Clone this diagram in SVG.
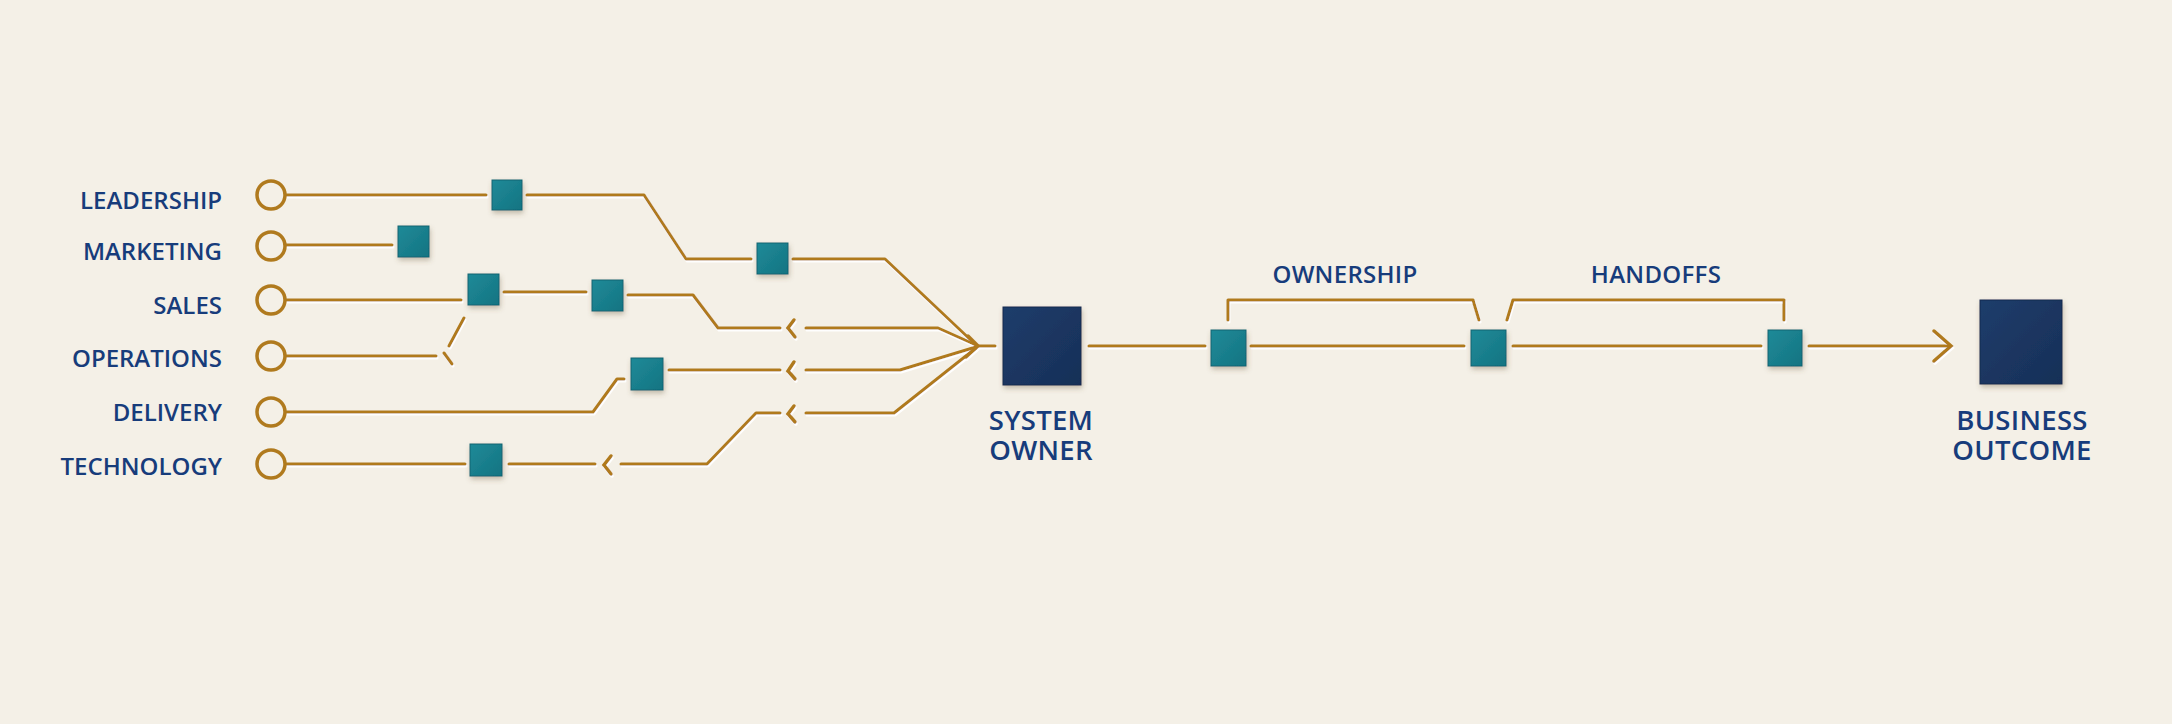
<svg xmlns="http://www.w3.org/2000/svg" width="2172" height="724" viewBox="0 0 2172 724">
  <defs>
    <style>
      .lbl { font-family: "Open Sans", "Noto Sans", "Liberation Sans", sans-serif; font-weight: 600; font-size: 24px; fill: #173C7B; }
      .big { font-size: 27.5px; letter-spacing: 0.3px; }
      .lbl-end { text-anchor: end; }
      .lbl-mid { text-anchor: middle; }
      .wire { fill: none; stroke: #B07A1E; stroke-width: 3; stroke-linecap: round; stroke-linejoin: round; }
      .chev { fill: none; stroke: #B07A1E; stroke-width: 3.5; stroke-linecap: round; stroke-linejoin: miter; }
      .port { fill: none; stroke: #B07A1E; stroke-width: 3.5; }
      .tile { fill: url(#teal); stroke: #0F6472; stroke-width: 1; }
      .hub { fill: url(#navy); stroke: #132A4E; stroke-width: 1; }
    </style>
    <linearGradient id="teal" x1="0" y1="0" x2="1" y2="1">
      <stop offset="0" stop-color="#1F8A98"/>
      <stop offset="1" stop-color="#147482"/>
    </linearGradient>
    <linearGradient id="navy" x1="0" y1="0" x2="1" y2="1">
      <stop offset="0" stop-color="#1E3D6B"/>
      <stop offset="1" stop-color="#172F57"/>
    </linearGradient>
    <filter id="emboss" x="-5%" y="-20%" width="110%" height="140%">
      <feOffset in="SourceAlpha" dx="0.8" dy="1.6" result="off"/>
      <feFlood flood-color="#FFFFFF" flood-opacity="0.95"/>
      <feComposite in2="off" operator="in" result="hi"/>
      <feMerge><feMergeNode in="hi"/><feMergeNode in="SourceGraphic"/></feMerge>
    </filter>
    <filter id="shadow" x="-30%" y="-30%" width="160%" height="170%">
      <feDropShadow dx="1" dy="3" stdDeviation="2.5" flood-color="#6B5A3A" flood-opacity="0.35"/>
    </filter>
  </defs>

  <rect x="0" y="0" width="2172" height="724" fill="#F4F0E7"/>

  <g id="connectors" filter="url(#emboss)">
    <!-- Leadership -->
    <path class="wire" d="M286,195 H486"/>
    <path class="wire" d="M527,195 H644 L686,259 H751"/>
    <path class="wire" d="M793,259 H885 L976,345"/>
    <!-- Marketing -->
    <path class="wire" d="M286,245 H392"/>
    <!-- Sales -->
    <path class="wire" d="M286,300 H461"/>
    <path class="wire" d="M504,292 H586"/>
    <path class="wire" d="M628,295 H693 L718,328 H780"/>
    <path class="chev" d="M794,320 L788,328 L795,337"/>
    <path class="wire" d="M806,328 H938 L976,345"/>
    <!-- Operations (broken) -->
    <path class="wire" d="M286,356 H436"/>
    <path class="wire" d="M464,318 L449,346"/>
    <path class="wire" d="M444,353 L452,364"/>
    <!-- Delivery -->
    <path class="wire" d="M286,412 H593 L617,379 H624"/>
    <path class="wire" d="M669,370 H780"/>
    <path class="chev" d="M794,362 L788,371 L795,379"/>
    <path class="wire" d="M806,370 H900 L976,347"/>
    <!-- Technology -->
    <path class="wire" d="M286,464 H465"/>
    <path class="wire" d="M509,464 H595"/>
    <path class="chev" d="M611,456 L604,465 L611,474"/>
    <path class="wire" d="M621,464 H707 L756,413 H780"/>
    <path class="chev" d="M794,406 L788,414 L795,422"/>
    <path class="wire" d="M806,413 H894 L976,348"/>
    <!-- Arrow into System Owner -->
    <path class="chev" d="M968,336 L978,346 L966,357"/>
    <path class="wire" d="M978,346 H995"/>
    <!-- Main line -->
    <path class="wire" d="M1089,346 H1205"/>
    <path class="wire" d="M1251,346 H1464"/>
    <path class="wire" d="M1513,346 H1761"/>
    <path class="wire" d="M1809,346 H1950"/>
    <path class="chev" d="M1934,331 L1951,346 L1934,361"/>
    <!-- Brackets -->
    <path class="wire" d="M1228,320 V300 H1473 L1479,320"/>
    <path class="wire" d="M1507,320 L1513,300 H1784 V320"/>
  </g>

  <g id="leadership">
    <text class="lbl lbl-end" x="222" y="209">LEADERSHIP</text>
    <circle class="port" cx="271" cy="195" r="14"/>
  </g>
  <g id="marketing">
    <text class="lbl lbl-end" x="222" y="260">MARKETING</text>
    <circle class="port" cx="271" cy="246" r="14"/>
  </g>
  <g id="sales">
    <text class="lbl lbl-end" x="222" y="314">SALES</text>
    <circle class="port" cx="271" cy="300" r="14"/>
  </g>
  <g id="operations">
    <text class="lbl lbl-end" x="222" y="367">OPERATIONS</text>
    <circle class="port" cx="271" cy="356" r="14"/>
  </g>
  <g id="delivery">
    <text class="lbl lbl-end" x="222" y="421">DELIVERY</text>
    <circle class="port" cx="271" cy="412" r="14"/>
  </g>
  <g id="technology">
    <text class="lbl lbl-end" x="222" y="475">TECHNOLOGY</text>
    <circle class="port" cx="271" cy="464" r="14"/>
  </g>

  <g id="tiles" filter="url(#shadow)">
    <rect id="tile-leadership-1" class="tile" x="492" y="180" width="30" height="30"/>
    <rect id="tile-leadership-2" class="tile" x="757" y="243" width="31" height="31"/>
    <rect id="tile-marketing-1" class="tile" x="398" y="226" width="31" height="31"/>
    <rect id="tile-sales-1" class="tile" x="468" y="274" width="31" height="31"/>
    <rect id="tile-sales-2" class="tile" x="592" y="280" width="31" height="31"/>
    <rect id="tile-delivery-1" class="tile" x="631" y="358" width="32" height="32"/>
    <rect id="tile-technology-1" class="tile" x="470" y="444" width="32" height="32"/>
    <rect id="tile-main-1" class="tile" x="1211" y="330" width="35" height="36"/>
    <rect id="tile-main-2" class="tile" x="1471" y="330" width="35" height="36"/>
    <rect id="tile-main-3" class="tile" x="1768" y="330" width="34" height="36"/>
  </g>

  <g id="system-owner">
    <rect class="hub" x="1003" y="307" width="78" height="78" filter="url(#shadow)"/>
    <text class="lbl big lbl-mid" x="1041" y="430"><tspan x="1041">SYSTEM</tspan><tspan x="1041" dy="30">OWNER</tspan></text>
  </g>

  <g id="ownership">
    <text class="lbl lbl-mid" x="1345" y="283" letter-spacing="0.3">OWNERSHIP</text>
  </g>
  <g id="handoffs">
    <text class="lbl lbl-mid" x="1656" y="283" letter-spacing="0.3">HANDOFFS</text>
  </g>

  <g id="business-outcome">
    <rect class="hub" x="1980" y="300" width="82" height="84" filter="url(#shadow)"/>
    <text class="lbl big lbl-mid" x="2022" y="430"><tspan x="2022">BUSINESS</tspan><tspan x="2022" dy="30">OUTCOME</tspan></text>
  </g>
</svg>
